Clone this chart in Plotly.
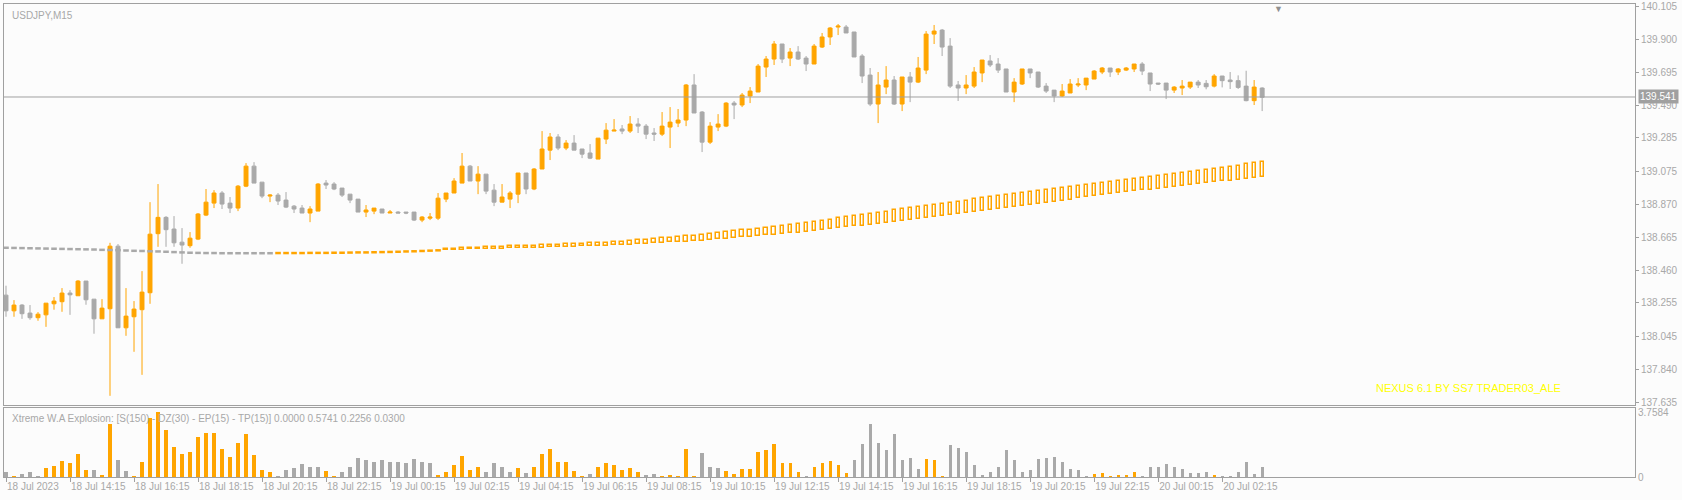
import plotly.graph_objects as go

# USDJPY M15 candles, bar 0 = 18 Jul 12:15
opens = [138.303, 138.205, 138.241, 138.191, 138.162, 138.180, 138.249, 138.262, 138.316, 138.299,
         138.391, 138.278, 138.155, 138.218, 138.609, 138.099, 138.168, 138.212, 138.318, 138.687,
         138.789, 138.716, 138.634, 138.612, 138.653, 138.803, 138.878, 138.941, 138.878, 138.847,
         138.984, 139.109, 139.009, 138.922, 138.928, 138.897, 138.859, 138.847, 138.816, 138.828,
         139.003, 138.997, 138.972, 138.934, 138.903, 138.822, 138.828, 138.841, 138.816, 138.822,
         138.822, 138.822, 138.772, 138.784, 138.784, 138.903, 138.941, 139.003, 139.109, 139.016,
         139.059, 138.959, 138.884, 138.903, 138.934, 139.066, 138.966, 139.091, 139.209, 139.291,
         139.222, 139.253, 139.216, 139.191, 139.153, 139.278, 139.328, 139.341, 139.328, 139.372,
         139.359, 139.316, 139.309, 139.353, 139.378, 139.397, 139.616, 139.447, 139.259, 139.353,
         139.359, 139.503, 139.491, 139.547, 139.572, 139.728, 139.778, 139.872, 139.784, 139.822,
         139.784, 139.747, 139.853, 139.916, 139.978, 139.978, 139.947, 139.797, 139.678, 139.497,
         139.603, 139.647, 139.497, 139.666, 139.634, 139.709, 139.934, 139.959, 139.859, 139.616,
         139.597, 139.609, 139.691, 139.766, 139.747, 139.716, 139.572, 139.622, 139.716, 139.697,
         139.609, 139.584, 139.547, 139.566, 139.616, 139.616, 139.653, 139.697, 139.722, 139.697,
         139.709, 139.716, 139.747, 139.691, 139.628, 139.628, 139.584, 139.597, 139.603, 139.634,
         139.626, 139.609, 139.672, 139.647, 139.643, 139.609, 139.518, 139.597]
highs = [138.362, 138.272, 138.247, 138.241, 138.197, 138.253, 138.291, 138.347, 138.334, 138.397,
         138.391, 138.278, 138.278, 138.630, 138.622, 138.347, 138.266, 138.453, 138.884, 138.997,
         138.797, 138.797, 138.722, 138.697, 138.816, 138.966, 138.959, 138.953, 138.916, 138.991,
         139.128, 139.134, 139.009, 138.934, 138.941, 138.947, 138.866, 138.866, 138.859, 139.003,
         139.022, 139.009, 138.972, 138.934, 138.903, 138.866, 138.847, 138.841, 138.835, 138.828,
         138.822, 138.822, 138.797, 138.816, 138.941, 138.941, 139.034, 139.191, 139.116, 139.109,
         139.059, 138.997, 138.997, 138.953, 139.066, 139.066, 139.097, 139.328, 139.316, 139.309,
         139.272, 139.303, 139.216, 139.247, 139.284, 139.378, 139.403, 139.366, 139.422, 139.409,
         139.372, 139.347, 139.447, 139.478, 139.466, 139.622, 139.684, 139.453, 139.384, 139.434,
         139.509, 139.516, 139.566, 139.603, 139.747, 139.797, 139.891, 139.872, 139.847, 139.859,
         139.797, 139.872, 139.941, 139.978, 139.997, 139.991, 139.947, 139.809, 139.722, 139.697,
         139.734, 139.672, 139.666, 139.697, 139.791, 139.953, 139.991, 139.966, 139.909, 139.641,
         139.678, 139.728, 139.772, 139.803, 139.784, 139.716, 139.659, 139.716, 139.716, 139.697,
         139.628, 139.584, 139.622, 139.653, 139.659, 139.659, 139.709, 139.728, 139.722, 139.722,
         139.728, 139.747, 139.759, 139.691, 139.628, 139.628, 139.609, 139.647, 139.634, 139.647,
         139.647, 139.684, 139.672, 139.697, 139.676, 139.705, 139.647, 139.601]
lows = [138.168, 138.168, 138.155, 138.149, 138.143, 138.105, 138.212, 138.199, 138.180, 138.299,
        138.243, 138.062, 138.155, 137.674, 138.099, 138.049, 137.949, 137.805, 138.249, 138.605,
        138.605, 138.605, 138.499, 138.599, 138.647, 138.797, 138.847, 138.841, 138.816, 138.828,
        138.978, 139.003, 138.909, 138.884, 138.866, 138.847, 138.816, 138.816, 138.759, 138.828,
        138.966, 138.959, 138.916, 138.878, 138.822, 138.791, 138.809, 138.816, 138.816, 138.816,
        138.809, 138.766, 138.759, 138.772, 138.772, 138.884, 138.941, 139.003, 139.016, 138.934,
        138.934, 138.859, 138.884, 138.847, 138.878, 138.934, 138.959, 139.091, 139.147, 139.209,
        139.209, 139.209, 139.159, 139.153, 139.153, 139.247, 139.328, 139.309, 139.316, 139.316,
        139.278, 139.266, 139.297, 139.222, 139.353, 139.359, 139.441, 139.197, 139.247, 139.328,
        139.353, 139.403, 139.478, 139.503, 139.572, 139.666, 139.741, 139.753, 139.734, 139.772,
        139.703, 139.747, 139.847, 139.866, 139.928, 139.941, 139.791, 139.628, 139.484, 139.378,
        139.559, 139.491, 139.453, 139.509, 139.628, 139.684, 139.872, 139.797, 139.597, 139.516,
        139.559, 139.597, 139.634, 139.728, 139.691, 139.572, 139.509, 139.616, 139.659, 139.597,
        139.566, 139.509, 139.541, 139.566, 139.603, 139.584, 139.653, 139.684, 139.666, 139.678,
        139.703, 139.697, 139.678, 139.578, 139.616, 139.528, 139.566, 139.553, 139.591, 139.597,
        139.589, 139.601, 139.601, 139.591, 139.591, 139.514, 139.491, 139.453]
closes = [138.205, 138.241, 138.187, 138.162, 138.184, 138.253, 138.266, 138.316, 138.305, 138.391,
          138.274, 138.155, 138.222, 138.609, 138.099, 138.172, 138.216, 138.322, 138.684, 138.789,
          138.712, 138.630, 138.616, 138.659, 138.810, 138.884, 138.941, 138.872, 138.847, 138.984,
          139.109, 139.003, 138.922, 138.928, 138.891, 138.853, 138.841, 138.816, 138.841, 138.997,
          138.991, 138.966, 138.928, 138.897, 138.822, 138.835, 138.847, 138.816, 138.822, 138.816,
          138.816, 138.772, 138.791, 138.791, 138.909, 138.941, 139.016, 139.109, 139.016, 139.059,
          138.953, 138.884, 138.916, 138.941, 139.066, 138.966, 139.091, 139.216, 139.291, 139.222,
          139.253, 139.209, 139.184, 139.159, 139.284, 139.334, 139.334, 139.328, 139.372, 139.359,
          139.309, 139.309, 139.359, 139.384, 139.397, 139.616, 139.441, 139.259, 139.359, 139.372,
          139.503, 139.491, 139.553, 139.578, 139.734, 139.778, 139.872, 139.778, 139.822, 139.778,
          139.747, 139.859, 139.916, 139.972, 139.984, 139.941, 139.791, 139.672, 139.497, 139.616,
          139.647, 139.497, 139.666, 139.634, 139.722, 139.934, 139.953, 139.853, 139.609, 139.597,
          139.616, 139.697, 139.772, 139.741, 139.709, 139.572, 139.634, 139.716, 139.691, 139.603,
          139.578, 139.547, 139.578, 139.622, 139.622, 139.659, 139.703, 139.722, 139.697, 139.716,
          139.722, 139.747, 139.703, 139.622, 139.622, 139.584, 139.603, 139.609, 139.634, 139.616,
          139.605, 139.672, 139.643, 139.637, 139.601, 139.518, 139.603, 139.539]

# slow trend line, bars 0-54 (dotted); gray up to bar 33, orange after
trend_line = [138.599, 138.598, 138.597, 138.596, 138.595, 138.594, 138.593, 138.592, 138.591, 138.590,
              138.589, 138.588, 138.586, 138.585, 138.584, 138.582, 138.580, 138.579, 138.577, 138.576,
              138.574, 138.572, 138.570, 138.568, 138.567, 138.566, 138.566, 138.565, 138.565, 138.565,
              138.565, 138.565, 138.565, 138.565, 138.566, 138.566, 138.566, 138.566, 138.567, 138.567,
              138.567, 138.568, 138.568, 138.569, 138.570, 138.570, 138.571, 138.572, 138.573, 138.574,
              138.576, 138.577, 138.579, 138.581, 138.583]
trend_gray_until = 33

# trend band, bars 55-157
band_low = [138.585, 138.586, 138.587, 138.589, 138.590, 138.591, 138.592, 138.594, 138.595, 138.596,
            138.598, 138.599, 138.600, 138.602, 138.603, 138.604, 138.606, 138.607, 138.608, 138.610,
            138.611, 138.614, 138.616, 138.619, 138.622, 138.624, 138.627, 138.630, 138.632, 138.635,
            138.638, 138.640, 138.643, 138.647, 138.651, 138.656, 138.660, 138.664, 138.668, 138.672,
            138.676, 138.681, 138.685, 138.689, 138.693, 138.697, 138.703, 138.709, 138.714, 138.720,
            138.726, 138.732, 138.737, 138.743, 138.749, 138.755, 138.760, 138.766, 138.772, 138.778,
            138.784, 138.791, 138.797, 138.803, 138.809, 138.816, 138.822, 138.828, 138.834, 138.841,
            138.847, 138.853, 138.860, 138.867, 138.873, 138.880, 138.887, 138.894, 138.900, 138.907,
            138.914, 138.921, 138.927, 138.934, 138.941, 138.947, 138.952, 138.958, 138.963, 138.969,
            138.975, 138.980, 138.986, 138.991, 138.997, 139.003, 139.008, 139.014, 139.019, 139.025,
            139.030, 139.036, 139.041]
band_high = [138.591, 138.593, 138.595, 138.597, 138.599, 138.601, 138.603, 138.605, 138.607, 138.609,
             138.611, 138.612, 138.614, 138.616, 138.618, 138.620, 138.622, 138.624, 138.626, 138.628,
             138.630, 138.634, 138.638, 138.642, 138.646, 138.650, 138.654, 138.658, 138.662, 138.666,
             138.670, 138.674, 138.678, 138.684, 138.690, 138.695, 138.701, 138.707, 138.713, 138.718,
             138.724, 138.730, 138.736, 138.741, 138.747, 138.753, 138.760, 138.767, 138.775, 138.782,
             138.789, 138.796, 138.804, 138.811, 138.818, 138.825, 138.833, 138.840, 138.847, 138.854,
             138.860, 138.867, 138.874, 138.881, 138.887, 138.894, 138.901, 138.907, 138.914, 138.921,
             138.927, 138.934, 138.940, 138.947, 138.953, 138.959, 138.965, 138.972, 138.978, 138.984,
             138.991, 138.997, 139.003, 139.010, 139.016, 139.022, 139.028, 139.035, 139.041, 139.047,
             139.053, 139.060, 139.066, 139.072, 139.078, 139.085, 139.092, 139.099, 139.106, 139.113,
             139.120, 139.127, 139.134]
band_start = 55

# Xtreme W.A Explosion histogram (1 = orange/up, -1 = gray/down)
explosion = [0.30, 0.06, 0.18, 0.30, 0.04, 0.53, 0.65, 0.95, 0.83, 1.36,
             0.41, 0.41, 0.12, 3.07, 1.00, 0.35, 0.04, 0.89, 3.43, 3.76,
             2.72, 1.77, 1.36, 1.48, 2.30, 2.54, 2.54, 1.65, 1.18, 1.95,
             2.48, 1.30, 0.41, 0.30, 0.06, 0.41, 0.53, 0.77, 0.59, 0.57,
             0.35, 0.02, 0.30, 0.59, 1.12, 1.00, 0.89, 1.00, 0.89, 0.89,
             0.83, 1.06, 0.89, 0.83, 0.12, 0.30, 0.71, 1.24, 0.41, 0.59,
             0.30, 0.83, 0.59, 0.30, 0.53, 0.24, 0.59, 1.36, 1.65, 0.89,
             0.89, 0.35, 0.06, 0.18, 0.59, 0.83, 0.71, 0.41, 0.53, 0.30,
             0.12, 0.18, 0.04, 0.12, 0.06, 1.60, 0.04, 1.42, 0.59, 0.53,
             0.35, 0.18, 0.47, 0.47, 1.48, 1.54, 1.89, 0.83, 0.83, 0.30,
             0.04, 0.59, 0.83, 0.95, 0.71, 0.24, 1.00, 1.89, 3.07, 1.95,
             1.54, 2.48, 1.00, 1.12, 0.47, 1.06, 1.00, 0.06, 1.83, 1.71,
             1.48, 0.71, 0.12, 0.30, 0.59, 1.54, 1.00, 0.30, 0.41, 1.06,
             1.12, 1.18, 0.89, 0.47, 0.41, 0.06, 0.18, 0.24, 0.06, 0.12,
             0.12, 0.30, 0.04, 0.59, 0.59, 0.77, 0.59, 0.47, 0.24, 0.24,
             0.30, 0.12, 0.04, 0.06, 0.30, 0.89, 0.18, 0.59]
explosion_dir = [-1, 1, -1, -1, -1, 1, 1, 1, 1, 1, 1, -1, 1, 1, -1, -1, 1, 1, 1, 1,
                 1, 1, 1, 1, 1, 1, 1, 1, 1, 1, 1, 1, 1, 1, -1, -1, -1, -1, -1, -1,
                 1, 1, -1, -1, -1, -1, -1, -1, -1, -1, -1, -1, -1, -1, 1, 1, 1, 1, 1, 1,
                 -1, -1, -1, -1, 1, -1, 1, 1, 1, 1, 1, 1, 1, -1, 1, 1, 1, 1, 1, 1,
                 -1, -1, 1, 1, 1, 1, 1, -1, -1, -1, 1, 1, 1, 1, 1, 1, 1, 1, 1, 1,
                 -1, 1, 1, 1, 1, 1, -1, -1, -1, -1, -1, -1, -1, -1, -1, 1, 1, 1, -1, -1,
                 -1, -1, -1, -1, -1, -1, -1, -1, -1, -1, -1, -1, -1, -1, -1, -1, 1, 1, 1, 1,
                 1, 1, -1, -1, -1, -1, -1, -1, -1, -1, -1, 1, -1, -1, -1, -1, -1, -1]

time_labels = ['18 Jul 2023', '18 Jul 14:15', '18 Jul 16:15', '18 Jul 18:15', '18 Jul 20:15',
               '18 Jul 22:15', '19 Jul 00:15', '19 Jul 02:15', '19 Jul 04:15', '19 Jul 06:15',
               '19 Jul 08:15', '19 Jul 10:15', '19 Jul 12:15', '19 Jul 14:15', '19 Jul 16:15',
               '19 Jul 18:15', '19 Jul 20:15', '19 Jul 22:15', '20 Jul 00:15', '20 Jul 02:15']
price_ticks = [140.105, 139.900, 139.695, 139.490, 139.285, 139.075, 138.870,
               138.665, 138.460, 138.255, 138.045, 137.840, 137.635]
last_price = 139.541

ORANGE = '#ffa500'
GRAY = '#a9a9a9'
TXT = '#a8a8a8'
FONT = 'Liberation Sans'

bars = list(range(len(opens)))
band_x = list(range(band_start, band_start + len(band_low)))

fig = go.Figure()

# band boxes (hollow orange)
fig.add_trace(go.Bar(x=band_x, y=[h - l for h, l in zip(band_high, band_low)], base=band_low,
                     width=0.4, marker=dict(color='white', line=dict(color=ORANGE, width=1.5)),
                     xaxis='x', yaxis='y', showlegend=False))

# dotted trend line
n_gray = trend_gray_until + 1
fig.add_trace(go.Scatter(x=bars[:n_gray], y=trend_line[:n_gray], mode='markers',
                         marker=dict(symbol='line-ew', size=4, line=dict(color=GRAY, width=2.5)),
                         showlegend=False))
fig.add_trace(go.Scatter(x=bars[n_gray:len(trend_line)], y=trend_line[n_gray:], mode='markers',
                         marker=dict(symbol='line-ew', size=4, line=dict(color=ORANGE, width=2.5)),
                         showlegend=False))

fig.add_trace(go.Candlestick(x=bars, open=opens, high=highs, low=lows, close=closes,
                             increasing=dict(line=dict(color=ORANGE, width=1), fillcolor=ORANGE),
                             decreasing=dict(line=dict(color=GRAY, width=1), fillcolor=GRAY),
                             whiskerwidth=0, showlegend=False))

fig.add_trace(go.Bar(x=bars, y=explosion, width=0.4,
                     marker=dict(color=[ORANGE if d > 0 else GRAY for d in explosion_dir], line=dict(width=0)),
                     xaxis='x2', yaxis='y2', showlegend=False))

xr = [-0.25, 203.6]
fig.update_layout(
    width=1682, height=500,
    margin=dict(l=4, r=47, t=4, b=23),
    paper_bgcolor='#fcfcfc', plot_bgcolor='#fcfcfc',
    font=dict(family=FONT, size=10, color=TXT),
    bargap=0,
    xaxis=dict(range=xr, domain=[0, 1], anchor='y', showticklabels=False, showgrid=False,
               zeroline=False, rangeslider=dict(visible=False), showline=True, mirror=True,
               linecolor='#a0a0a0', ticks=''),
    yaxis=dict(domain=[0.152, 1], range=[137.616, 140.122], side='right', tickvals=price_ticks,
               ticktext=[f'{v:.3f}' for v in price_ticks], ticks='outside', ticklen=3,
               tickcolor='#a0a0a0', showgrid=False, zeroline=False, showline=True, mirror=True,
               linecolor='#a0a0a0', automargin=False, tickfont=dict(size=10)),
    xaxis2=dict(range=xr, domain=[0, 1], anchor='y2', tickvals=list(range(0, 8 * len(time_labels), 8)),
                ticktext=time_labels, ticks='outside', ticklen=4, tickcolor='#a0a0a0', tickangle=0,
                ticklabelposition='outside right', showgrid=False, zeroline=False,
                showline=True, mirror=True, linecolor='#a0a0a0', automargin=False),
    yaxis2=dict(domain=[0, 0.146], range=[0, 4.0], side='right', tickvals=[0, 3.7584],
                ticktext=['0', '3.7584'], ticks='', showgrid=False, zeroline=False,
                showline=True, mirror=True, linecolor='#a0a0a0', automargin=False),
)

fig.add_hline(y=last_price, line=dict(color='#a0a0a0', width=1), xref='x', yref='y')
fig.add_annotation(x=1, xref='paper', y=last_price, yref='y', xanchor='left', xshift=3,
                   text=f'{last_price:.3f}', showarrow=False, bgcolor='#a0a0a0',
                   font=dict(color='white', size=10), borderpad=1)
fig.add_annotation(x=0, xref='paper', y=1, yref='paper', xanchor='left', yanchor='top',
                   xshift=6, yshift=-4, text='USDJPY,M15', showarrow=False)
fig.add_annotation(x=0, xref='paper', y=0.146, yref='paper', xanchor='left', yanchor='top',
                   xshift=6, yshift=-3, showarrow=False,
                   text='Xtreme W.A Explosion: [S(150) - DZ(30) - EP(15) - TP(15)] 0.0000 0.5741 0.2256 0.0300')
fig.add_annotation(x=0.84, xref='paper', y=137.72, yref='y', xanchor='left',
                   text='NEXUS 6.1 BY SS7 TRADER03_ALE', showarrow=False,
                   font=dict(color='#ffff00', size=11))
fig.add_annotation(x=159, xref='x', y=1, yref='paper', yanchor='top', text='▼', showarrow=False,
                   font=dict(color='#909090', size=9), yshift=2)

fig.write_html('out.html', config=dict(displayModeBar=False),
               post_script="document.body.style.margin='0';")
